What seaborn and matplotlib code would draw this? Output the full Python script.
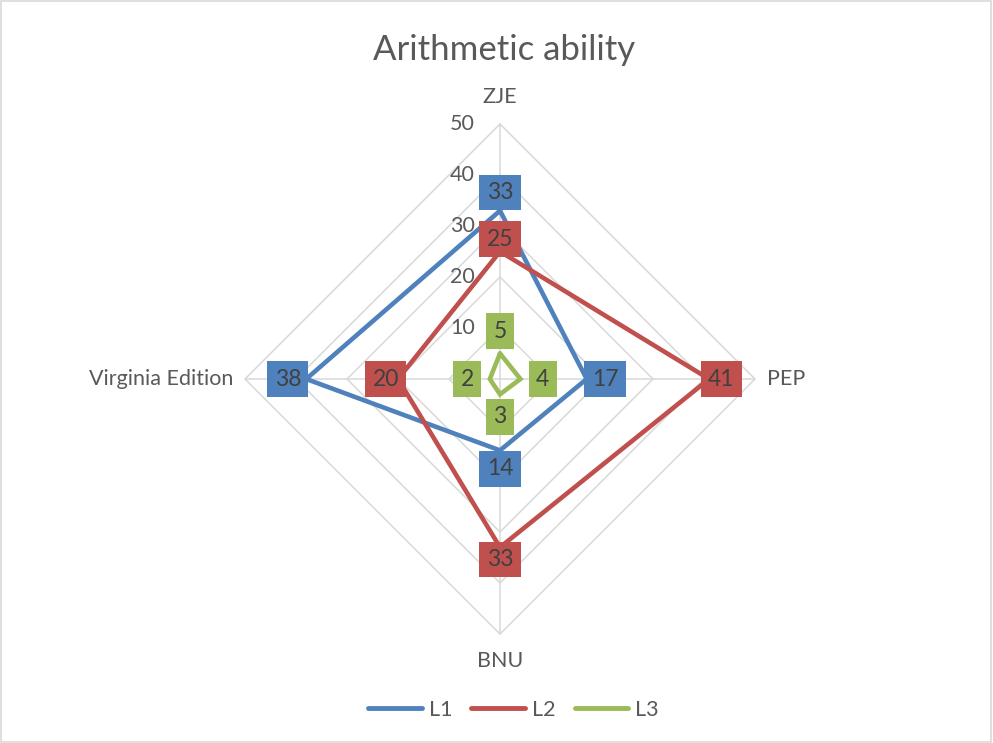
import numpy as np
import pandas as pd
import matplotlib.pyplot as plt
from matplotlib.lines import Line2D
from matplotlib.patches import Rectangle
import seaborn as sns

sns.set_theme(style="white")
plt.rcParams['font.family'] = ['Lato', 'DejaVu Sans']

# data
categories = ['ZJE', 'PEP', 'BNU', 'Virginia Edition']
series_names = ['L1', 'L2', 'L3']
l1 = [33, 17, 14, 38]
l2 = [25, 41, 33, 20]
l3 = [5, 4, 3, 2]
ticks = [0, 10, 20, 30, 40, 50]

colors = {'L1': '#4F81BD', 'L2': '#C0504D', 'L3': '#9BBB59'}
grey_text = '#595959'

# Excel radar: first axis on top, clockwise
angles = np.pi / 2 - np.arange(len(categories)) * 2 * np.pi / len(categories)

rows = []
for name, vals in zip(series_names, [l1, l2, l3]):
    for i in list(range(len(categories))) + [0]:
        rows.append({'series': name, 'cat': categories[i], 'value': vals[i],
                     'x': vals[i] * np.cos(angles[i]), 'y': vals[i] * np.sin(angles[i])})
df = pd.DataFrame(rows)

fig = plt.figure(figsize=(9.93, 7.43), dpi=100)
ax = fig.add_axes([0, 0, 1, 1])
px = 5.1  # pixels per unit
cx, cy = 500, 379
ax.set_xlim(-cx / px, (993 - cx) / px)
ax.set_ylim(-(743 - cy) / px, cy / px)
ax.axis('off')

# diamond grid + spokes
grid_c = '#D9D9D9'
for t in ticks[1:]:
    gx = [t * np.cos(a) for a in angles] + [t * np.cos(angles[0])]
    gy = [t * np.sin(a) for a in angles] + [t * np.sin(angles[0])]
    ax.plot(gx, gy, color=grid_c, lw=1.1, zorder=1)
for a in angles:
    ax.plot([0, ticks[-1] * np.cos(a)], [0, ticks[-1] * np.sin(a)], color=grid_c, lw=1.1, zorder=1)

# radial tick labels
for t in ticks:
    ax.text(-4.9, t, str(t), ha='right', va='center', fontsize=15.5, color=grey_text, zorder=2)

sns.lineplot(data=df, x='x', y='y', hue='series', palette=colors, sort=False,
             estimator=None, lw=3.3, ax=ax, legend=False, zorder=3,
             solid_joinstyle='miter')

# data labels
offsets = {'L1': 3.6, 'L2': 2.4, 'L3': 4.4}
for _, r in df.drop_duplicates(['series', 'cat']).iterrows():
    a = angles[categories.index(r['cat'])]
    d = r['value'] + offsets[r['series']]
    ax.text(d * np.cos(a), d * np.sin(a), str(r['value']), ha='center', va='center',
            fontsize=16.5, color='#404040', zorder=5,
            bbox=dict(boxstyle='square,pad=0.32', fc=colors[r['series']], ec='none'))

# category labels
for cat, a in zip(categories, angles):
    c, s = np.cos(a), np.sin(a)
    ha = 'center' if abs(c) < 0.1 else ('left' if c > 0 else 'right')
    ax.text(52.3 * c, 55.3 * s, cat, ha=ha, va='center',
            fontsize=15.5, color=grey_text)

fig.text(0.508, 0.933, 'Arithmetic ability', ha='center', va='center',
         fontsize=25, color=grey_text)

handles = [Line2D([0], [0], color=colors[n], lw=3.5, solid_capstyle='round') for n in series_names]
fig.legend(handles, series_names, loc='center', bbox_to_anchor=(0.517, 0.045), ncol=3,
           frameon=False, fontsize=15.5, handlelength=2.5, handletextpad=0.3,
           columnspacing=0.9, labelcolor=grey_text)

fig.patches.append(Rectangle((0.001, 0.002), 0.997, 0.996, transform=fig.transFigure,
                             fill=False, ec='#D9D9D9', lw=1.2))

fig.savefig('out.png', dpi=100)
